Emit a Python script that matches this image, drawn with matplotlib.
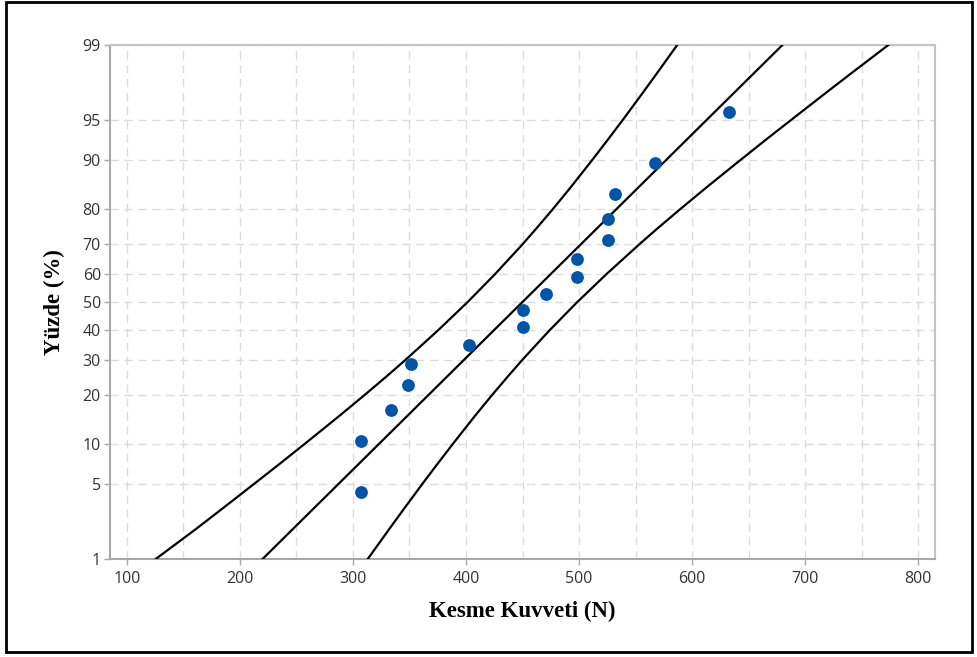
import numpy as np
import matplotlib
matplotlib.use('Agg')
import matplotlib.pyplot as plt
from matplotlib.patches import Rectangle
from matplotlib.ticker import FixedLocator, MultipleLocator, FixedFormatter
from statistics import NormalDist

# veri noktaları
kuvvet = [307, 307, 334, 349, 351, 403, 450, 450, 471, 498, 498, 526, 526, 532, 567, 633]
yuzde = [4.3, 10.4, 16.5, 22.6, 28.7, 34.8, 40.9, 47.0, 53.0, 59.1, 65.2, 71.3, 77.4, 83.5, 89.6, 95.7]

# uyum çizgisi (olasılık ölçeğinde düz) - uç noktaları
uyum_yuzde = [1, 99]
uyum = [220, 680]

# güven bantları
bant_yuzde = [1, 2, 3, 5, 7, 10, 15, 20, 25, 30, 40, 50, 60, 70, 75, 80, 85, 90, 93, 95, 97, 98, 99]
alt_bant = [125.5, 161.2, 183.1, 212.7, 233.8, 257.6, 287.3, 310.3, 329.6, 346.4, 375.6, 401.5,
            425.8, 450.2, 463.0, 476.9, 492.5, 511.4, 526.0, 538.5, 555.5, 567.8, 586.9]
ust_bant = [313.1, 332.2, 344.5, 361.5, 374.0, 388.6, 407.5, 423.1, 437.0, 449.8, 474.2, 498.5,
            524.4, 553.6, 570.4, 589.7, 612.7, 642.4, 666.2, 687.3, 716.9, 738.8, 773.7]

y_ticks = [1, 5, 10, 20, 30, 40, 50, 60, 70, 80, 90, 95, 99]
x_ticks = [100, 200, 300, 400, 500, 600, 700, 800]

nd = NormalDist()


def ileri(p):
    p = np.clip(np.asarray(p, dtype=float), 1e-4, 100 - 1e-4)
    return np.vectorize(lambda v: nd.inv_cdf(v / 100.0), otypes=[float])(p)


def geri(z):
    z = np.asarray(z, dtype=float)
    return np.vectorize(lambda v: nd.cdf(v) * 100.0, otypes=[float])(z)


fig = plt.figure(figsize=(9.77, 6.57), dpi=100)
ax = fig.add_axes([110 / 977, 1 - 559 / 657, 825 / 977, 514 / 657])

ax.set_yscale('function', functions=(ileri, geri))

ax.plot(alt_bant, bant_yuzde, color='black', lw=1.6, zorder=3)
ax.plot(ust_bant, bant_yuzde, color='black', lw=1.6, zorder=3)
ax.plot(uyum, uyum_yuzde, color='black', lw=1.6, zorder=3)
ax.scatter(kuvvet, yuzde, s=85, color='#0055a8', zorder=4, linewidths=0)

ax.set_xlim(85, 815)
ax.set_ylim(1, 99)

ax.xaxis.set_major_locator(FixedLocator(x_ticks))
ax.xaxis.set_minor_locator(MultipleLocator(50))
ax.yaxis.set_major_locator(FixedLocator(y_ticks))
ax.yaxis.set_major_formatter(FixedFormatter([str(t) for t in y_ticks]))
ax.yaxis.set_minor_locator(FixedLocator([]))

ax.grid(which='both', color='#dcdcdc', linestyle=(0, (6, 4)), linewidth=1.0, zorder=0)
ax.set_axisbelow(True)

ax.tick_params(axis='both', which='major', direction='out', length=4.5, width=1,
               color='#a8a8a8', labelcolor='#333333', labelsize=11.5)
ax.tick_params(axis='x', which='minor', length=0)
ax.tick_params(axis='x', pad=4)
ax.tick_params(axis='y', pad=2)
for lab in ax.get_xticklabels() + ax.get_yticklabels():
    lab.set_fontfamily('Open Sans')

for s in ax.spines.values():
    s.set_color('#c4c4c4')
    s.set_linewidth(1.5)
ax.spines['left'].set_color('#a8a8a8')
ax.spines['bottom'].set_color('#a8a8a8')

ax.set_xlabel('Kesme Kuvveti (N)', fontfamily='Liberation Serif', fontweight='bold', fontsize=16.5)
ax.set_ylabel('Yüzde (%)', fontfamily='Liberation Serif', fontweight='bold', fontsize=16.5)
ax.xaxis.set_label_coords(0.5, -0.082)
ax.yaxis.set_label_coords(-0.055, 0.5)

fig.patches.append(Rectangle((6 / 977, 1 - 652 / 657), 966 / 977, 650 / 657,
                             transform=fig.transFigure, fill=False,
                             edgecolor='black', linewidth=2))

fig.savefig('out.png', dpi=100)
